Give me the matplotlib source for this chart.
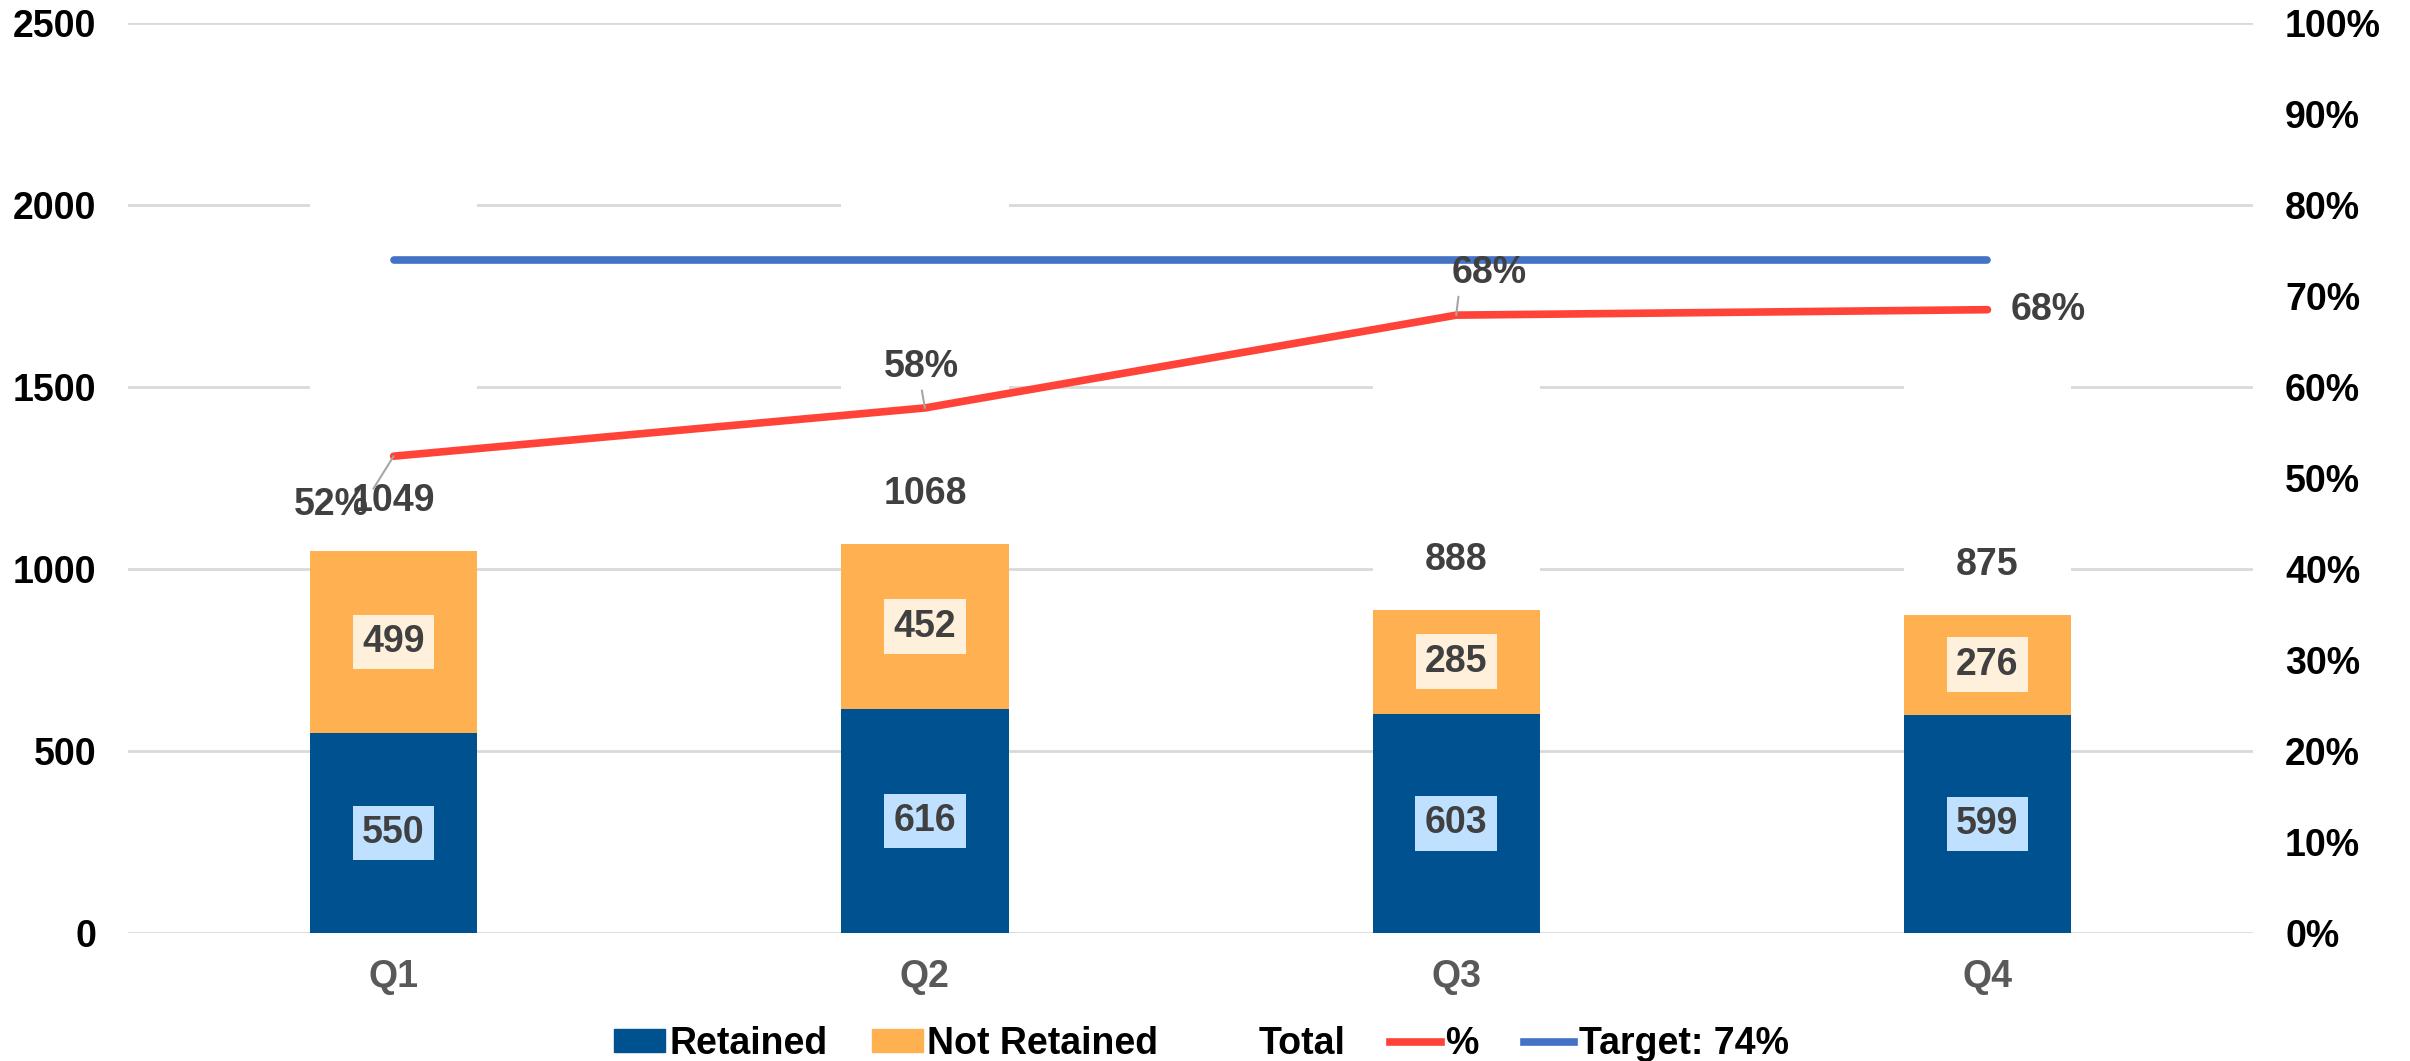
import matplotlib
matplotlib.use("Agg")
import matplotlib.pyplot as plt
from matplotlib.patches import Patch
from matplotlib.lines import Line2D
import numpy as np

plt.rcParams['font.family'] = ['Liberation Sans', 'DejaVu Sans']
plt.rcParams['font.weight'] = 'bold'

# ---- data ----
quarters = ["Q1", "Q2", "Q3", "Q4"]
retained = [550, 616, 603, 599]
not_retained = [499, 452, 285, 276]
totals = [1049, 1068, 888, 875]
pct = [0.524, 0.577, 0.679, 0.685]
pct_labels = ["52%", "58%", "68%", "68%"]
target = [0.74, 0.74, 0.74, 0.74]
left_ticks = [0, 500, 1000, 1500, 2000, 2500]
right_ticks = [0, 0.1, 0.2, 0.3, 0.4, 0.5, 0.6, 0.7, 0.8, 0.9, 1.0]

# styles
C_RET = "#005190"
C_NOT = "#FFB152"
C_PCT = "#FF4339"
C_TGT = "#4472C4"
C_GRID = "#D9D9D9"
C_LBL = "#404040"
FS = 27

fig = plt.figure(figsize=(24.1, 10.61), dpi=100)
ax = fig.add_axes([0.0531, 0.1206, 0.9349 - 0.0531, 0.9783 - 0.1206])
x = np.arange(len(quarters))
w = 0.315

ax.set_axisbelow(True)
ax.yaxis.grid(True, color=C_GRID, linewidth=2)
b1 = ax.bar(x, retained, w, color=C_RET, zorder=2)
b2 = ax.bar(x, not_retained, w, bottom=retained, color=C_NOT, zorder=2)
b3 = ax.bar(x, totals, w, bottom=np.array(retained) + np.array(not_retained),
            color="white", zorder=2)

ax.set_xlim(-0.5, len(quarters) - 0.5)
ax.set_ylim(0, 2500)
ax.set_yticks(left_ticks)
ax.set_yticklabels([str(t) for t in left_ticks])
ax.set_xticks(x)
ax.set_xticklabels(quarters)
for s in ax.spines.values():
    s.set_visible(False)
ax.tick_params(axis='y', length=0, pad=23, labelsize=FS, labelcolor="black")
ax.tick_params(axis='x', length=0, pad=19, labelsize=FS, labelcolor="#595959")

# segment labels
for i in range(len(quarters)):
    ax.text(x[i], retained[i] / 2, str(retained[i]), ha='center', va='center',
            fontsize=FS, color=C_LBL, fontweight='bold', zorder=5,
            bbox=dict(boxstyle='square,pad=0.25', fc="#BFE1FF", ec='none'))
    ax.text(x[i], retained[i] + not_retained[i] / 2, str(not_retained[i]),
            ha='center', va='center', fontsize=FS, color=C_LBL, fontweight='bold', zorder=5,
            bbox=dict(boxstyle='square,pad=0.25', fc="#FFF0DC", ec='none'))
    ax.annotate(str(totals[i]), xy=(x[i], retained[i] + not_retained[i]),
                xytext=(0, 50), textcoords='offset pixels', ha='center', va='center',
                fontsize=FS, color=C_LBL, fontweight='bold', zorder=5)

# secondary axis
ax2 = ax.twinx()
ax2.set_ylim(0, 1.0)
ax2.set_yticks(right_ticks)
ax2.set_yticklabels([f"{int(round(t*100))}%" for t in right_ticks])
for s in ax2.spines.values():
    s.set_visible(False)
ax2.tick_params(axis='y', length=0, pad=23, labelsize=FS, labelcolor="black")
ax2.plot(x, target, color=C_TGT, linewidth=5.5, solid_capstyle='round', zorder=3)
ax2.plot(x, pct, color=C_PCT, linewidth=5.5, solid_capstyle='round', zorder=4)

offsets = [(-62, -49), (-4, 41), (33, 42), (61, 0)]
leader = [True, True, True, False]
relpos = [(0.95, 0.6), (0.5, 0.0), (0.1, 0.0), (0.5, 0.5)]
for i in range(len(quarters)):
    kw = {}
    if leader[i]:
        kw['arrowprops'] = dict(arrowstyle='-', color='#A6A6A6', lw=1.5,
                                relpos=relpos[i], shrinkA=2, shrinkB=0)
    ax2.annotate(pct_labels[i], xy=(x[i], pct[i]), xytext=offsets[i],
                 textcoords='offset pixels', ha='center', va='center',
                 fontsize=FS, color=C_LBL, fontweight='bold', zorder=6, **kw)

handles = [Patch(color=C_RET), Patch(color=C_NOT), Patch(color='white'),
           Line2D([], [], color=C_PCT, lw=5.5), Line2D([], [], color=C_TGT, lw=5.5)]
labels = ["Retained", "Not Retained", "Total", "%", "Target: 74%"]
fig.legend(handles, labels, loc='center', bbox_to_anchor=(0.4985, 0.016), ncol=5,
           frameon=False, fontsize=FS, handlelength=1.35, handleheight=0.55,
           handletextpad=0.12, columnspacing=1.2)

fig.savefig("out.png", dpi=100)
